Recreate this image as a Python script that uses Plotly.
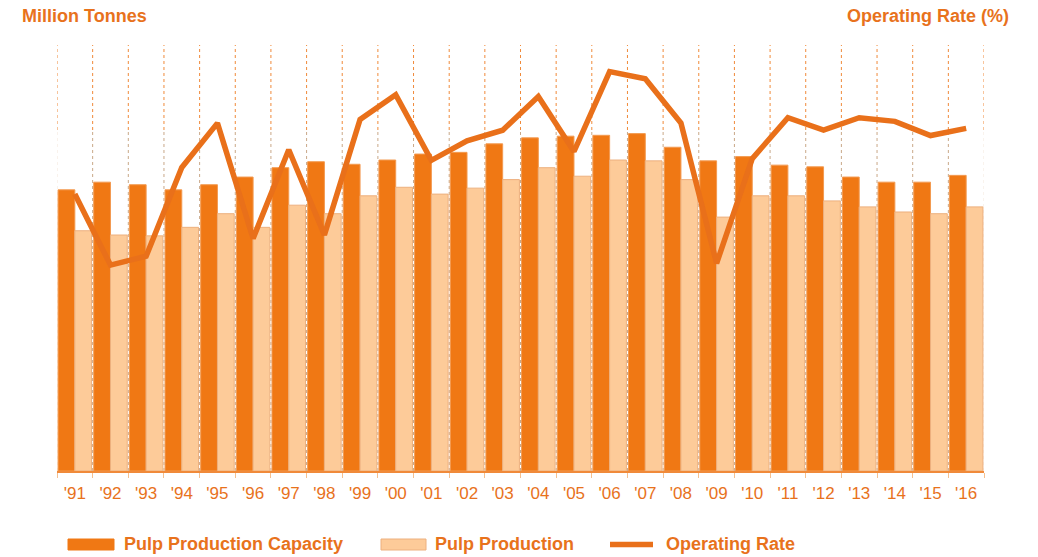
import plotly.graph_objects as go

years = ["'91", "'92", "'93", "'94", "'95", "'96", "'97", "'98", "'99", "'00",
         "'01", "'02", "'03", "'04", "'05", "'06", "'07", "'08", "'09", "'10",
         "'11", "'12", "'13", "'14", "'15", "'16"]

capacity = [33.0, 33.9, 33.6, 33.0, 33.6, 34.5, 35.6, 36.3, 36.0, 36.5,
            37.2, 37.4, 38.4, 39.1, 39.3, 39.4, 39.6, 38.0, 36.4, 36.9,
            35.9, 35.7, 34.5, 33.9, 33.9, 34.7]

production = [28.2, 27.7, 27.6, 28.6, 30.2, 28.6, 31.2, 30.2, 32.3, 33.3,
              32.5, 33.2, 34.2, 35.6, 34.6, 36.5, 36.4, 34.2, 29.8, 32.3,
              32.3, 31.7, 31.0, 30.4, 30.2, 31.0]

operating_rate = [85.6, 81.6, 82.1, 87.1, 89.6, 83.1, 88.1, 83.3, 89.8, 91.2,
                  87.5, 88.6, 89.2, 91.1, 88.0, 92.5, 92.1, 89.6, 81.7, 87.6,
                  89.9, 89.2, 89.9, 89.7, 88.9, 89.3]

ORANGE = "#F07814"
LINE_ORANGE = "#E9701A"
LIGHT = "#FDCB99"
TEXT = "#E8721C"
FONT = "Liberation Sans, Arial, sans-serif"

W, H = 1038, 557
PLOT_L, PLOT_R, PLOT_T, PLOT_B = 57, 984, 45, 471  # screen pixels
L = PLOT_L
R = W - PLOT_R
T = PLOT_T
B = H - PLOT_B
PW = PLOT_R - PLOT_L
PH = PLOT_B - PLOT_T


def px(x):
    return (x - PLOT_L) / PW


def py(y):
    return (PLOT_B - y) / PH


fig = go.Figure()
fig.add_trace(go.Bar(
    x=years, y=capacity, name="Pulp Production Capacity",
    marker=dict(color=ORANGE, line=dict(color="#F39A50", width=1)),
    yaxis="y",
))
fig.add_trace(go.Bar(
    x=years, y=production, name="Pulp Production",
    marker=dict(color=LIGHT, line=dict(color="#EDB07E", width=1)),
    yaxis="y",
))
fig.add_trace(go.Scatter(
    x=years, y=operating_rate, name="Operating Rate", mode="lines",
    line=dict(color=LINE_ORANGE, width=5.5),
    yaxis="y2",
))

shapes = []
n = len(years)
split = py(130)
for i in range(n + 1):
    xpos = i - 0.5
    shapes.append(dict(type="line", xref="x", yref="paper", x0=xpos, x1=xpos,
                       y0=split, y1=1, layer="below",
                       line=dict(color="#F08A3A", width=1, dash="3px,3px")))
    low_col = "#F3E6DA" if i in (0, n) else "#C9A888"
    shapes.append(dict(type="line", xref="x", yref="paper", x0=xpos, x1=xpos,
                       y0=0, y1=split, layer="below",
                       line=dict(color=low_col, width=1, dash="3px,3px")))

# legend (manual)
shapes.append(dict(type="rect", xref="paper", yref="paper",
                   x0=px(68), x1=px(114), y0=py(550), y1=py(539),
                   fillcolor=ORANGE, line=dict(color=ORANGE, width=1)))
shapes.append(dict(type="rect", xref="paper", yref="paper",
                   x0=px(381), x1=px(426), y0=py(550), y1=py(539),
                   fillcolor=LIGHT, line=dict(color="#EDB07E", width=1)))
shapes.append(dict(type="line", xref="paper", yref="paper",
                   x0=px(610), x1=px(653), y0=py(544.5), y1=py(544.5),
                   line=dict(color=LINE_ORANGE, width=5.5)))

annotations = [
    dict(text="<b>Million Tonnes</b>", xref="paper", yref="paper",
         x=px(20), y=py(16), xanchor="left", yanchor="middle", showarrow=False,
         font=dict(family=FONT, size=18, color=TEXT)),
    dict(text="<b>Operating Rate (%)</b>", xref="paper", yref="paper",
         x=px(1011), y=py(16), xanchor="right", yanchor="middle", showarrow=False,
         font=dict(family=FONT, size=18, color=TEXT)),
    dict(text="<b>Pulp Production Capacity</b>", xref="paper", yref="paper",
         x=px(122), y=py(544), xanchor="left", yanchor="middle", showarrow=False,
         font=dict(family=FONT, size=18, color=TEXT)),
    dict(text="<b>Pulp Production</b>", xref="paper", yref="paper",
         x=px(433), y=py(544), xanchor="left", yanchor="middle", showarrow=False,
         font=dict(family=FONT, size=18, color=TEXT)),
    dict(text="<b>Operating Rate</b>", xref="paper", yref="paper",
         x=px(664), y=py(544), xanchor="left", yanchor="middle", showarrow=False,
         font=dict(family=FONT, size=18, color=TEXT)),
]

fig.update_layout(
    width=W, height=H,
    margin=dict(l=L, r=R, t=T, b=B, pad=0),
    paper_bgcolor="white", plot_bgcolor="white",
    barmode="group", bargap=0.06, bargroupgap=0,
    showlegend=False,
    shapes=shapes, annotations=annotations,
    font=dict(family=FONT, color=TEXT),
    xaxis=dict(
        type="category", range=[-0.5, n - 0.5],
        showline=True, linecolor="#F08A3A", linewidth=1.5,
        ticks="outside", tickson="boundaries", ticklen=5, tickcolor="#F5C090",
        tickwidth=1, showgrid=False, zeroline=False,
        ticklabelstandoff=6,
        tickfont=dict(family=FONT, size=17, color=TEXT),
    ),
    yaxis=dict(range=[0, 50], showticklabels=False, showgrid=False,
               zeroline=False, showline=False, ticks=""),
    yaxis2=dict(range=[70, 94], overlaying="y", side="right",
                showticklabels=False, showgrid=False, zeroline=False,
                showline=False, ticks=""),
)

fig.write_html(
    "out.html",
    config={"displayModeBar": False},
    post_script="document.body.style.margin='0';document.body.style.overflow='hidden';",
)
